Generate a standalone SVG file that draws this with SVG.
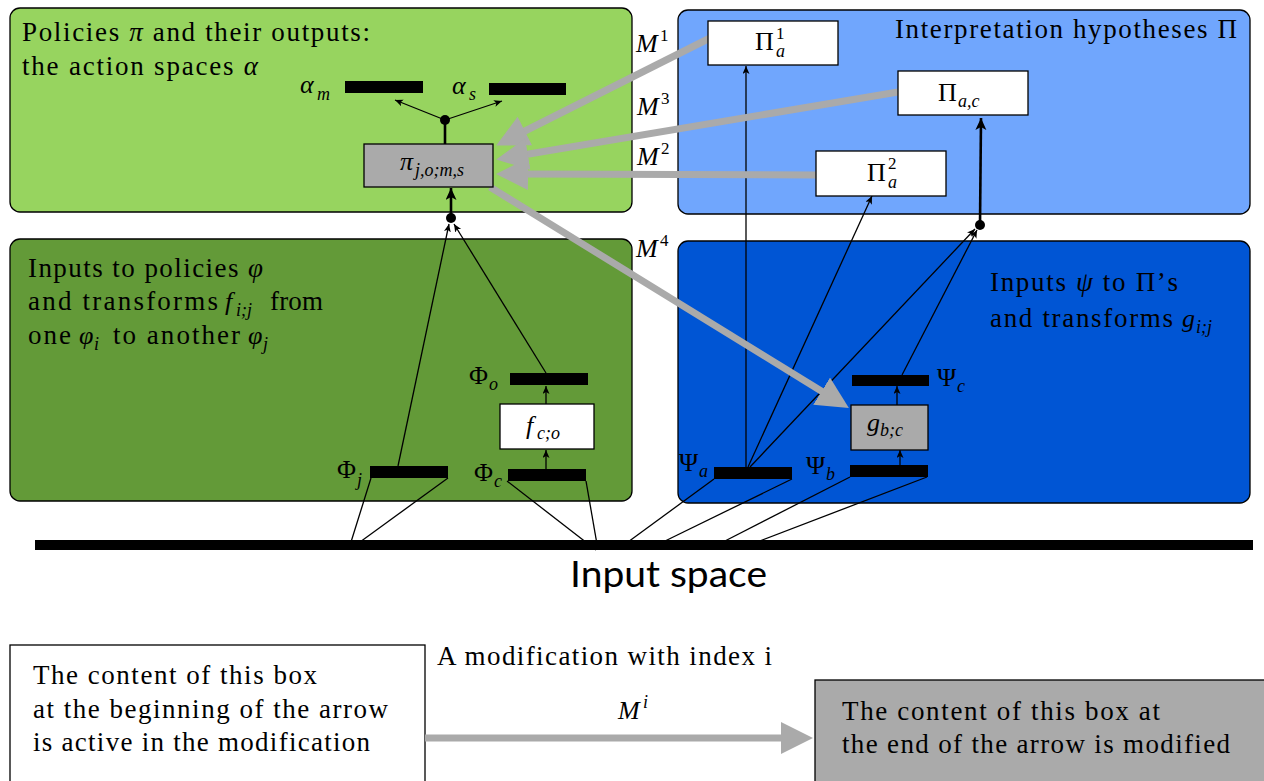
<svg xmlns="http://www.w3.org/2000/svg" width="1264" height="781" viewBox="0 0 1264 781">
<style>
.t{font-family:"Liberation Serif","Times New Roman",serif;font-size:27px;fill:#000}
.m{font-family:"Liberation Serif","Times New Roman",serif;font-style:italic;font-size:26px;fill:#000}
.r{font-family:"Liberation Serif","Times New Roman",serif;font-size:26px;fill:#000}
.s{font-family:"Liberation Serif","Times New Roman",serif;font-style:italic;font-size:18px;fill:#000}
.sr{font-family:"Liberation Serif","Times New Roman",serif;font-size:17px;fill:#000}
.bar{fill:#000}
.box{stroke:#000;stroke-width:1.3}
.thin{stroke:#000;stroke-width:1.3;fill:none}
.thick{stroke:#000;stroke-width:2.6;fill:none}
.gray{stroke:#aaaaaa;stroke-width:7;fill:none}
</style>
<defs>
<marker id="ah" markerUnits="userSpaceOnUse" markerWidth="10" markerHeight="8" refX="8" refY="3.5" orient="auto"><path d="M0,0 L8,3.5 L0,7 L2,3.5 z" fill="#000"/></marker>
<marker id="ahT" markerUnits="userSpaceOnUse" markerWidth="14" markerHeight="12" refX="12" refY="5.5" orient="auto"><path d="M0,0 L12,5.5 L0,11 L3,5.5 z" fill="#000"/></marker>
<marker id="ahG" markerUnits="userSpaceOnUse" markerWidth="34" markerHeight="34" refX="11" refY="16" orient="auto"><path d="M0,0 L32,16 L0,32 z" fill="#aaaaaa"/></marker>
</defs>
<rect width="1264" height="781" fill="#fff"/>

<g id="panel-policies">
<rect x="10" y="8" width="622" height="204" rx="10" fill="#97d45f" class="box"/>
<text class="t" x="22" y="41" textLength="348" lengthAdjust="spacing">Policies <tspan font-style="italic">π</tspan> and their outputs:</text>
<text class="t" x="22" y="75" textLength="236" lengthAdjust="spacing">the action spaces <tspan font-style="italic">α</tspan></text>
</g>
<g id="panel-hypotheses">
<rect x="678" y="10" width="572" height="204" rx="10" fill="#70a6fd" class="box"/>
<text class="t" x="895" y="38" textLength="342" lengthAdjust="spacing">Interpretation hypotheses Π</text>
</g>
<g id="panel-inputs-phi">
<rect x="10" y="239" width="622" height="262" rx="10" fill="#639a38" class="box"/>
<text class="t" x="28" y="277" textLength="235" lengthAdjust="spacing">Inputs to policies <tspan font-style="italic">φ</tspan></text>
<text class="t" x="28" y="310" textLength="190" lengthAdjust="spacing">and transforms</text>
<text class="m" x="225" y="310">f</text><text class="s" x="236" y="316">i;j</text>
<text class="t" x="270" y="310" textLength="53" lengthAdjust="spacing">from</text>
<text class="t" x="28" y="344" textLength="43" lengthAdjust="spacing">one</text>
<text class="m" x="79" y="344">φ</text><text class="s" x="94" y="350">i</text>
<text class="t" x="113" y="344" textLength="127" lengthAdjust="spacing">to another</text>
<text class="m" x="248" y="344">φ</text><text class="s" x="263" y="350">j</text>
</g>
<g id="panel-inputs-psi">
<rect x="678" y="241" width="572" height="262" rx="10" fill="#0055d4" class="box"/>
<text class="t" x="990" y="291" textLength="188" lengthAdjust="spacing">Inputs <tspan font-style="italic">ψ</tspan> to Π’s</text>
<text class="t" x="990" y="327" textLength="183" lengthAdjust="spacing">and transforms</text>
<text class="m" x="1182" y="327">g</text><text class="s" x="1196" y="333">i;j</text>
</g>

<g id="input-space">
<rect x="35" y="540" width="1218" height="10" fill="#000"/>
<text x="570" y="587" font-family="Lato,'Open Sans',sans-serif" font-size="37" textLength="197" lengthAdjust="spacingAndGlyphs">Input space</text>
</g>

<g id="connectors">
<line class="thin" x1="351" y1="542" x2="371" y2="478"/>
<line class="thin" x1="360" y1="542" x2="448" y2="478"/>
<line class="thin" x1="596" y1="550" x2="507" y2="481"/>
<line class="thin" x1="598" y1="550" x2="586" y2="481"/>
<line class="thin" x1="628" y1="542" x2="714" y2="479"/>
<line class="thin" x1="663" y1="542" x2="792" y2="479"/>
<line class="thin" x1="723" y1="542" x2="850" y2="477"/>
<line class="thin" x1="757" y1="542" x2="927" y2="477"/>
<line class="thin" x1="398" y1="466" x2="449" y2="224" marker-end="url(#ah)"/>
<line class="thin" x1="546" y1="373" x2="454" y2="224" marker-end="url(#ah)"/>
<line class="thin" x1="546" y1="469" x2="546" y2="450" marker-end="url(#ah)"/>
<line class="thin" x1="546" y1="404" x2="546" y2="386" marker-end="url(#ah)"/>
<line class="thick" x1="451" y1="218" x2="451" y2="188" marker-end="url(#ahT)"/>
<circle cx="451" cy="218" r="5" fill="#000"/>
<line class="thick" x1="445" y1="120" x2="445" y2="144"/>
<line class="thin" x1="445" y1="120" x2="395" y2="100" marker-end="url(#ah)"/>
<line class="thin" x1="445" y1="120" x2="502" y2="101" marker-end="url(#ah)"/>
<circle cx="445" cy="120" r="5" fill="#000"/>
<line class="thin" x1="746" y1="467" x2="746" y2="66" marker-end="url(#ah)"/>
<line class="thin" x1="748" y1="467" x2="872" y2="196" marker-end="url(#ah)"/>
<line class="thin" x1="750" y1="467" x2="975" y2="229" marker-end="url(#ah)"/>
<line class="thin" x1="902" y1="375" x2="977" y2="230" marker-end="url(#ah)"/>
<line class="thin" x1="900" y1="465" x2="900" y2="450" marker-end="url(#ah)"/>
<line class="thin" x1="897" y1="405" x2="897" y2="386" marker-end="url(#ah)"/>
<line class="thick" x1="980" y1="225" x2="981" y2="118" marker-end="url(#ahT)"/>
<circle cx="980" cy="225" r="5" fill="#000"/>
<line class="gray" x1="710" y1="38" x2="515" y2="136" marker-end="url(#ahG)"/>
<line class="gray" x1="898" y1="92" x2="517" y2="156" marker-end="url(#ahG)"/>
<line class="gray" x1="816" y1="175" x2="517" y2="174" marker-end="url(#ahG)"/>
<line class="gray" x1="490" y1="187" x2="831" y2="397" marker-end="url(#ahG)"/>
<text class="m" x="636" y="52">M</text><text class="sr" x="660" y="41">1</text>
<text class="m" x="637" y="115">M</text><text class="sr" x="661" y="104">3</text>
<text class="m" x="637" y="165">M</text><text class="sr" x="661" y="154">2</text>
<text class="m" x="636" y="257">M</text><text class="sr" x="660" y="246">4</text>
</g>

<g id="alpha-m"><rect class="bar" x="345" y="81" width="78" height="12"/><text class="m" x="300" y="93">α</text><text class="s" x="317" y="100">m</text></g>
<g id="alpha-s"><rect class="bar" x="489" y="83" width="77" height="12"/><text class="m" x="452" y="94">α</text><text class="s" x="469" y="100">s</text></g>
<g id="pi"><rect x="364" y="144" width="129" height="43" fill="#aaaaaa" class="box"/><text class="m" x="400" y="170">π</text><text class="s" x="415" y="176">j,o;m,s</text></g>
<g id="phi-o"><rect class="bar" x="510" y="373" width="78" height="12"/><text class="r" x="469" y="384">Φ</text><text class="s" x="489" y="390">o</text></g>
<g id="f-co"><rect x="500" y="404" width="94" height="45" fill="#fff" class="box"/><text class="m" x="526" y="434">f</text><text class="s" x="537" y="439">c;o</text></g>
<g id="phi-c"><rect class="bar" x="508" y="469" width="78" height="12"/><text class="r" x="474" y="481">Φ</text><text class="s" x="494" y="487">c</text></g>
<g id="phi-j"><rect class="bar" x="370" y="466" width="78" height="12"/><text class="r" x="337" y="478">Φ</text><text class="s" x="357" y="486">j</text></g>
<g id="psi-a"><rect class="bar" x="714" y="467" width="78" height="12"/><text class="r" x="679" y="471">Ψ</text><text class="s" x="699" y="477">a</text></g>
<g id="psi-b"><rect class="bar" x="850" y="465" width="78" height="12"/><text class="r" x="806" y="474">Ψ</text><text class="s" x="826" y="480">b</text></g>
<g id="g-bc"><rect x="851" y="405" width="77" height="45" fill="#aaaaaa" class="box"/><text class="m" x="867" y="431">g</text><text class="s" x="880" y="436">b;c</text></g>
<g id="psi-c"><rect class="bar" x="852" y="375" width="77" height="11"/><text class="r" x="937" y="386">Ψ</text><text class="s" x="957" y="392">c</text></g>
<g id="pi-a1"><rect x="708" y="21" width="130" height="44" fill="#fff" class="box"/><text class="r" x="755" y="50">Π</text><text class="sr" x="776" y="39">1</text><text class="s" x="776" y="57">a</text></g>
<g id="pi-ac"><rect x="898" y="71" width="130" height="44" fill="#fff" class="box"/><text class="r" x="938" y="101">Π</text><text class="s" x="958" y="107">a,c</text></g>
<g id="pi-a2"><rect x="816" y="151" width="130" height="45" fill="#fff" class="box"/><text class="r" x="867" y="181">Π</text><text class="sr" x="888" y="169">2</text><text class="s" x="888" y="188">a</text></g>

<g id="legend-source">
<rect x="10" y="645" width="415" height="140" fill="#fff" class="box"/>
<text class="t" x="33" y="684" textLength="284" lengthAdjust="spacing">The content of this box</text>
<text class="t" x="33" y="718" textLength="355" lengthAdjust="spacing">at the beginning of the arrow</text>
<text class="t" x="33" y="751" textLength="337" lengthAdjust="spacing">is active in the modification</text>
</g>
<g id="legend-target">
<rect x="815" y="680" width="455" height="110" fill="#aaaaaa" class="box"/>
<text class="t" x="842" y="720" textLength="318" lengthAdjust="spacing">The content of this box at</text>
<text class="t" x="842" y="753" textLength="388" lengthAdjust="spacing">the end of the arrow is modified</text>
</g>
<g id="legend-arrow">
<line class="gray" x1="425" y1="738" x2="792" y2="738" marker-end="url(#ahG)"/>
<text class="t" x="437" y="665" textLength="335" lengthAdjust="spacing">A modification with index i</text>
<text class="m" x="618" y="719">M</text><text class="s" x="643" y="708">i</text>
</g>
</svg>
